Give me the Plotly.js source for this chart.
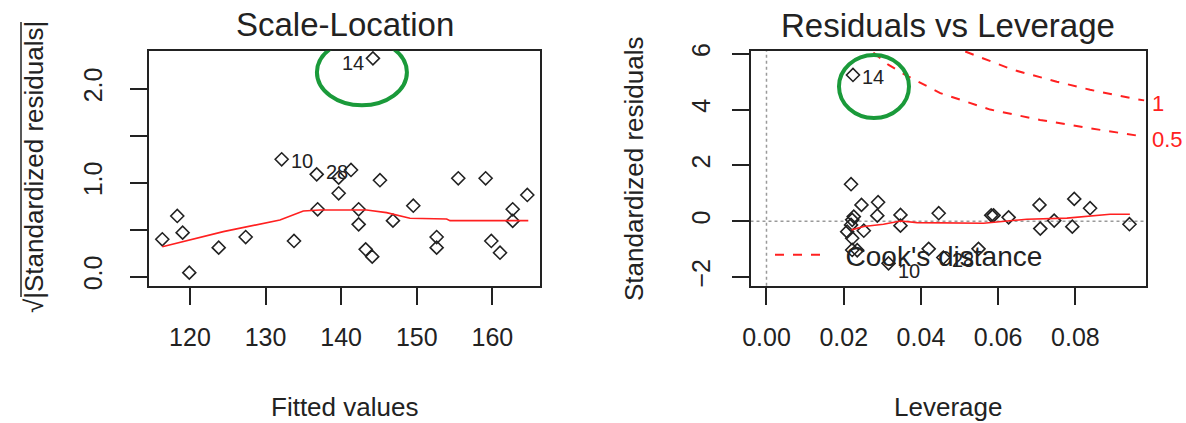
<!DOCTYPE html>
<html>
<head>
<meta charset="utf-8">
<script src="https://cdn.plot.ly/plotly-3.0.1.min.js"></script>
<style>
  html, body { margin: 0; padding: 0; background: #ffffff; }
  #chart { width: 1186px; height: 423px; }
</style>
</head>
<body>
<div id="chart"></div>
<script>
// ---------- Scale-Location panel ----------
const fittedValues = [116.34, 118.32, 119.03, 119.91, 123.80, 127.37, 132.13, 133.76, 136.76, 136.89,
                      139.67, 139.67, 141.30, 142.31, 142.31, 143.24, 144.11, 145.13, 146.85, 149.54,
                      152.63, 152.63, 155.49, 159.11, 159.86, 161.01, 162.69, 162.69, 164.62, 144.20];
const sqrtAbsStdResid = [0.398, 0.646, 0.468, 0.043, 0.309, 0.422, 1.249, 0.380, 1.089, 0.717,
                         1.053, 0.887, 1.135, 0.717, 0.557, 0.291, 0.213, 1.026, 0.596, 0.755,
                         0.422, 0.309, 1.047, 1.047, 0.380, 0.255, 0.717, 0.593, 0.869, 2.323];
const slLabelIdx = [29, 6, 8];
const slLabelText = ['14', '10', '28'];
const slSmoothX = [116.34, 124.41, 131.9, 133.23, 134.99, 137.2, 143.37, 146.0, 149.1, 153.95, 154.4, 164.75];
const slSmoothY = [0.319, 0.479, 0.603, 0.646, 0.699, 0.710, 0.710, 0.681, 0.621, 0.614, 0.596, 0.596];
const slXTicks = [120, 130, 140, 150, 160];
const slYTicks = [0, 0.5, 1, 1.5, 2];
const slYTickText = ['0.0', '', '1.0', '', '2.0'];

// ---------- Residuals vs Leverage panel ----------
const leverage = [0.0219, 0.0246, 0.0289, 0.0287, 0.0226, 0.0219, 0.0209, 0.0252, 0.0222, 0.0222,
                  0.0235, 0.0347, 0.0347, 0.0446, 0.0582, 0.0588, 0.0627, 0.0707, 0.0709, 0.0745,
                  0.0797, 0.0792, 0.0838, 0.0940, 0.0420, 0.0549, 0.0316, 0.0458, 0.0224, 0.0222];
const stdResid = [1.326, 0.584, 0.680, 0.200, 0.165, -0.133, -0.373, -0.340, -0.609, -1.029,
                  -1.040, 0.226, -0.160, 0.287, 0.210, 0.210, 0.140, 0.584, -0.265, 0.022,
                  0.799, -0.194, 0.466, -0.108, -0.990, -0.990, -1.510, -1.300, 5.240, 0.050];
const rvlLabelIdx = [28, 26, 27];
const rvlLabelText = ['14', '10', '28'];
const rvlSmoothX = [0.0220, 0.0252, 0.0303, 0.0347, 0.0390, 0.0562, 0.0674, 0.0778, 0.0890, 0.0941];
const rvlSmoothY = [-0.31, -0.19, -0.11, 0.01, -0.05, -0.07, 0.07, 0.11, 0.25, 0.25];
const cook1Lev = [0.05147, 0.06396, 0.07518, 0.08379, 0.09587, 0.0978];
const cook1Res = [6.08, 5.42, 5.00, 4.71, 4.37, 4.33];
const cook05Lev = [0.02767, 0.03163, 0.03639, 0.0450, 0.05793, 0.07086, 0.08379, 0.09587, 0.0978];
const cook05Res = [6.04, 5.60, 5.21, 4.59, 4.00, 3.63, 3.33, 3.06, 3.03];
const cookLevels = ['1', '0.5'];
const rvlXTicks = [0, 0.02, 0.04, 0.06, 0.08];
const rvlXTickText = ['0.00', '0.02', '0.04', '0.06', '0.08'];
const rvlYTicks = [-2, 0, 2, 4, 6];

// ---------- styling ----------
const FONT = 'Liberation Sans, Arial, sans-serif';
const INK = '#222222';
const RED = '#ff2020';
const W = 1186, H = 423;
const px = v => v / W;
const py = v => 1 - v / H;

const markerStyle = {symbol: 'diamond-open', size: 10, color: INK, line: {width: 1.6, color: INK}};

const traces = [
  {x: fittedValues, y: sqrtAbsStdResid, xaxis: 'x', yaxis: 'y', type: 'scatter', mode: 'markers',
   marker: markerStyle, showlegend: false, hoverinfo: 'skip'},
  {x: slSmoothX, y: slSmoothY, xaxis: 'x', yaxis: 'y', type: 'scatter', mode: 'lines',
   line: {color: RED, width: 1.6}, showlegend: false},
  {x: leverage, y: stdResid, xaxis: 'x2', yaxis: 'y2', type: 'scatter', mode: 'markers',
   marker: markerStyle, showlegend: false},
  {x: rvlSmoothX, y: rvlSmoothY, xaxis: 'x2', yaxis: 'y2', type: 'scatter', mode: 'lines',
   line: {color: RED, width: 1.6}, showlegend: false},
  {x: cook05Lev, y: cook05Res, xaxis: 'x2', yaxis: 'y2', type: 'scatter', mode: 'lines',
   line: {color: RED, width: 2, dash: 'dash'}, name: "\u00a0\u00a0Cook's distance", showlegend: true},
  {x: cook1Lev, y: cook1Res, xaxis: 'x2', yaxis: 'y2', type: 'scatter', mode: 'lines',
   line: {color: RED, width: 2, dash: 'dash'}, showlegend: false}
];

const axisBase = {
  showline: true, linecolor: INK, linewidth: 2, mirror: true,
  ticks: 'outside', ticklen: 17, tickwidth: 2, tickcolor: INK,
  showgrid: false, zeroline: false, fixedrange: true,
  tickfont: {family: FONT, size: 25, color: INK},
  tickmode: 'array'
};
const yDomain = [py(285.7), py(50.7)];

const layout = {
  width: W, height: H,
  margin: {l: 0, r: 0, t: 0, b: 0},
  paper_bgcolor: '#ffffff', plot_bgcolor: '#ffffff',
  font: {family: FONT, color: INK},
  showlegend: true,
  legend: {x: px(770), y: py(255), xanchor: 'left', yanchor: 'middle',
           itemwidth: 50,
           bgcolor: 'rgba(0,0,0,0)', borderwidth: 0,
           font: {family: FONT, size: 28, color: INK}},
  xaxis: Object.assign({}, axisBase, {domain: [px(149.3), px(540)], range: [114.62, 166.3],
                                      anchor: 'y', tickvals: slXTicks, ticklabelstandoff: 11}),
  yaxis: Object.assign({}, axisBase, {domain: yDomain, range: [-0.096, 2.404], anchor: 'x',
                                      tickvals: slYTicks, ticktext: slYTickText, tickangle: -90,
                                      ticklabelstandoff: 18}),
  xaxis2: Object.assign({}, axisBase, {domain: [px(750.5), px(1146)], range: [-0.00414, 0.09828],
                                       anchor: 'y2', tickvals: rvlXTicks, ticktext: rvlXTickText,
                                       ticklabelstandoff: 11}),
  yaxis2: Object.assign({}, axisBase, {domain: yDomain, range: [-2.31, 6.11], anchor: 'x2',
                                       tickvals: rvlYTicks, tickangle: -90, ticklabelstandoff: 12}),
  shapes: [
    {type: 'line', xref: 'x2', yref: 'y2 domain', x0: 0, x1: 0, y0: 0, y1: 1,
     line: {color: '#9a9a9a', width: 1.5, dash: 'dot'}, layer: 'below'},
    {type: 'line', xref: 'x2 domain', yref: 'y2', x0: 0, x1: 1, y0: 0, y1: 0,
     line: {color: '#9a9a9a', width: 1.5, dash: 'dot'}, layer: 'below'},
    // radical bar of the sqrt in the y title
    {type: 'line', xref: 'paper', yref: 'paper', x0: px(21), x1: px(21), y0: py(297), y1: py(22),
     line: {color: INK, width: 1.5}},
    // hand-drawn green ellipses round observation 14
    {type: 'circle', xref: 'x', yref: 'y', xsizemode: 'pixel', ysizemode: 'pixel',
     xanchor: fittedValues[slLabelIdx[0]], yanchor: sqrtAbsStdResid[slLabelIdx[0]],
     x0: -56, x1: 34, y0: -47, y1: 19, line: {color: '#1a9a3a', width: 4}},
    {type: 'circle', xref: 'x2', yref: 'y2', xsizemode: 'pixel', ysizemode: 'pixel',
     xanchor: leverage[rvlLabelIdx[0]], yanchor: stdResid[rvlLabelIdx[0]],
     x0: -14, x1: 56, y0: -43, y1: 20, line: {color: '#1a9a3a', width: 4}}
  ],
  annotations: []
};

const ann = layout.annotations;
// panel titles
ann.push({text: 'Scale-Location', xref: 'paper', yref: 'paper', x: px(344.5), y: py(25),
          xanchor: 'center', yanchor: 'middle', showarrow: false, font: {family: FONT, size: 33, color: INK}});
ann.push({text: 'Residuals vs Leverage', xref: 'paper', yref: 'paper', x: px(948), y: py(26),
          xanchor: 'center', yanchor: 'middle', showarrow: false, font: {family: FONT, size: 33, color: INK}});
// axis titles
ann.push({text: 'Fitted values', xref: 'paper', yref: 'paper', x: px(344.5), y: py(407),
          xanchor: 'center', yanchor: 'middle', showarrow: false, font: {family: FONT, size: 26, color: INK}});
ann.push({text: 'Leverage', xref: 'paper', yref: 'paper', x: px(948), y: py(407),
          xanchor: 'center', yanchor: 'middle', showarrow: false, font: {family: FONT, size: 26, color: INK}});
ann.push({text: '√|Standardized residuals|', xref: 'paper', yref: 'paper', x: px(34), y: py(167),
          xanchor: 'center', yanchor: 'middle', textangle: -90, showarrow: false,
          font: {family: FONT, size: 26, color: INK}});
ann.push({text: 'Standardized residuals', xref: 'paper', yref: 'paper', x: px(634), y: py(168),
          xanchor: 'center', yanchor: 'middle', textangle: -90, showarrow: false,
          font: {family: FONT, size: 26, color: INK}});

// observation labels (R: label right of point when x below mid-range, else left)
function addIds(xs, ys, idx, txt, xr, yr, xmid, yshifts) {
  idx.forEach((i, k) => {
    const right = xs[i] < xmid;
    ann.push({text: txt[k], xref: xr, yref: yr, x: xs[i], y: ys[i],
              xanchor: right ? 'left' : 'right', yanchor: 'middle',
              xshift: right ? 7 : -7, yshift: yshifts[k], showarrow: false,
              font: {family: FONT, size: 20, color: INK}});
  });
}
addIds(fittedValues, sqrtAbsStdResid, slLabelIdx, slLabelText, 'x', 'y', 140.5, [-5, -2, 2]);
addIds(leverage, stdResid, rvlLabelIdx, rvlLabelText, 'x2', 'y2', 0.0578, [-2, -8, -2]);

// Cook's distance contour levels
[[cook1Lev, cook1Res], [cook05Lev, cook05Res]].forEach((c, k) => {
  ann.push({text: cookLevels[k], xref: 'x2', yref: 'y2', x: c[0][c[0].length - 1], y: c[1][c[1].length - 1],
            xanchor: 'left', yanchor: 'middle', xshift: 6, yshift: -3, showarrow: false,
            font: {family: FONT, size: 22, color: RED}});
});

Plotly.newPlot('chart', traces, layout, {displayModeBar: false, staticPlot: true});
</script>
</body>
</html>
